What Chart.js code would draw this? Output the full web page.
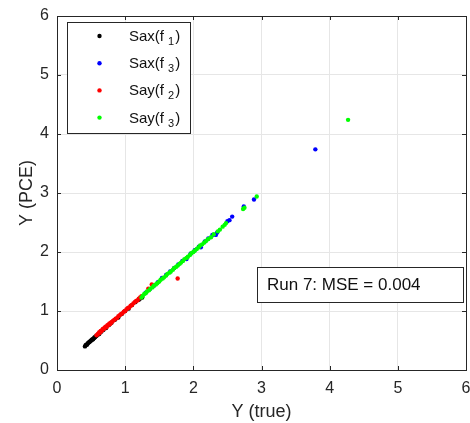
<!DOCTYPE html>
<html>
<head>
<meta charset="utf-8">
<script src="https://cdn.jsdelivr.net/npm/chart.js@4"></script>
<style>
  body { margin: 0; background: #fff; }
  canvas { display: block; }
</style>
</head>
<body>
<canvas id="pceChart" width="470" height="423"></canvas>
<script>
// Sax(f1) - black
const sax1X = [0.41,0.42,0.43,0.44,0.45,0.46,0.47,0.48,0.49,0.50,0.51,0.52,0.53,0.54,0.55,0.56,0.57,0.58,0.60,0.62,0.65,0.68,0.72,0.76,0.80,0.85,0.90,0.95,1.00,1.05,1.10,1.15,1.20,1.22,1.25];
const sax1Y = [0.40,0.42,0.43,0.43,0.45,0.46,0.47,0.48,0.49,0.50,0.51,0.52,0.52,0.54,0.55,0.56,0.57,0.58,0.60,0.61,0.65,0.68,0.71,0.76,0.80,0.85,0.89,0.95,1.00,1.04,1.10,1.15,1.19,1.21,1.23];
// Sax(f3) - blue
const sax3X = [1.30,1.36,1.42,1.48,1.54,1.60,1.66,1.72,1.78,1.84,1.90,1.96,2.02,2.08,2.11,2.17,2.22,2.28,2.33,2.35,2.50,2.53,2.57,2.74,2.89,3.79];
const sax3Y = [1.31,1.37,1.43,1.49,1.56,1.61,1.67,1.73,1.79,1.85,1.88,1.97,2.03,2.09,2.08,2.18,2.23,2.29,2.29,2.33,2.52,2.54,2.60,2.77,2.89,3.74];
// Say(f2) - red
const say2X = [0.58,0.60,0.61,0.62,0.63,0.64,0.65,0.66,0.67,0.68,0.69,0.70,0.71,0.72,0.73,0.74,0.75,0.76,0.77,0.78,0.79,0.80,0.82,0.84,0.86,0.88,0.90,0.92,0.94,0.96,0.98,1.00,1.02,1.04,1.06,1.08,1.10,1.12,1.14,1.16,1.18,1.20,1.22,1.24,1.34,1.39,1.77];
const say2Y = [0.59,0.61,0.62,0.64,0.63,0.66,0.66,0.67,0.69,0.70,0.70,0.72,0.72,0.74,0.73,0.76,0.76,0.77,0.79,0.78,0.80,0.81,0.83,0.85,0.87,0.88,0.91,0.93,0.95,0.96,0.99,1.00,1.03,1.05,1.06,1.09,1.10,1.13,1.15,1.17,1.18,1.21,1.23,1.25,1.38,1.45,1.55];
// Say(f3) - green
const say3X = [1.24,1.26,1.28,1.30,1.32,1.35,1.37,1.40,1.42,1.45,1.47,1.50,1.52,1.55,1.57,1.60,1.62,1.65,1.67,1.70,1.72,1.75,1.77,1.80,1.82,1.85,1.87,1.90,1.92,1.95,1.97,2.00,2.02,2.05,2.08,2.10,2.13,2.16,2.19,2.22,2.26,2.30,2.36,2.39,2.43,2.46,2.48,2.73,2.75,2.93,4.27];
const say3Y = [1.23,1.26,1.29,1.30,1.33,1.35,1.38,1.40,1.43,1.45,1.47,1.50,1.53,1.55,1.57,1.60,1.63,1.65,1.67,1.70,1.73,1.75,1.77,1.80,1.82,1.85,1.88,1.90,1.92,1.95,1.98,2.00,2.02,2.05,2.08,2.11,2.13,2.16,2.19,2.22,2.25,2.30,2.35,2.38,2.43,2.46,2.49,2.73,2.75,2.94,4.24];

const axisTicks = [0, 1, 2, 3, 4, 5, 6];
const legendNames = ['Sax(f_1)', 'Sax(f_3)', 'Say(f_2)', 'Say(f_3)'];
const legendColors = ['#000000', '#0000ff', '#ff0000', '#00ff00'];
const runText = 'Run 7: MSE = 0.004';

const AXIS_COLOR = '#262626';
const FONT = '"Liberation Sans", Arial, sans-serif';

function pts(xs, ys) {
  return xs.map((x, i) => ({ x: x, y: ys[i] }));
}

function ds(label, xs, ys, color) {
  return {
    label: label,
    data: pts(xs, ys),
    backgroundColor: color,
    borderWidth: 0,
    pointRadius: 2.2,
    pointHoverRadius: 2.2
  };
}

// chart.js paints dataset 0 last, so green ends up on top and black at the bottom
const datasets = [
  ds(legendNames[3], say3X, say3Y, legendColors[3]),
  ds(legendNames[2], say2X, say2Y, legendColors[2]),
  ds(legendNames[1], sax3X, sax3Y, legendColors[1]),
  ds(legendNames[0], sax1X, sax1Y, legendColors[0])
];

function drawSubLabel(ctx, text, x, y) {
  const parts = text.split('_');
  ctx.font = '15px ' + FONT;
  ctx.textBaseline = 'alphabetic';
  ctx.textAlign = 'left';
  ctx.fillText(parts[0], x, y);
  let cx = x + ctx.measureText(parts[0]).width + 4;
  ctx.font = '11px ' + FONT;
  const sub = parts[1].charAt(0);
  ctx.fillText(sub, cx, y + 4);
  cx += ctx.measureText(sub).width + 1;
  ctx.font = '15px ' + FONT;
  ctx.fillText(parts[1].slice(1), cx, y);
}

const boxPlugin = {
  id: 'boxPlugin',
  afterDatasetsDraw(chart) {
    const ctx = chart.ctx;
    const a = chart.chartArea;
    const xs = chart.scales.x, ys = chart.scales.y;
    ctx.save();
    ctx.strokeStyle = AXIS_COLOR;
    ctx.lineWidth = 1;
    // inward tick marks on all four sides
    ctx.beginPath();
    axisTicks.forEach(t => {
      const px = Math.round(xs.getPixelForValue(t)) + 0.5;
      ctx.moveTo(px, a.bottom); ctx.lineTo(px, a.bottom - 4);
      ctx.moveTo(px, a.top); ctx.lineTo(px, a.top + 4);
      const py = Math.round(ys.getPixelForValue(t)) + 0.5;
      ctx.moveTo(a.left, py); ctx.lineTo(a.left + 4, py);
      ctx.moveTo(a.right, py); ctx.lineTo(a.right - 4, py);
    });
    ctx.stroke();
    ctx.strokeRect(Math.round(a.left) + 0.5, Math.round(a.top) + 0.5,
      Math.round(a.right - a.left), Math.round(a.bottom - a.top));

    // legend
    ctx.fillStyle = '#fff';
    ctx.fillRect(67.5, 22.5, 123, 111);
    ctx.strokeRect(67.5, 22.5, 123, 111);
    legendNames.forEach((name, i) => {
      const cy = 36 + i * 27.2;
      ctx.fillStyle = legendColors[i];
      ctx.beginPath();
      ctx.arc(99.5, cy, 2.2, 0, Math.PI * 2);
      ctx.fill();
      ctx.fillStyle = '#111';
      drawSubLabel(ctx, name, 129, cy + 5);
    });

    // run / error box
    ctx.fillStyle = '#fff';
    ctx.fillRect(257.5, 267.5, 206, 35);
    ctx.strokeRect(257.5, 267.5, 206, 35);
    ctx.fillStyle = '#111';
    ctx.font = '17px ' + FONT;
    ctx.textBaseline = 'middle';
    ctx.textAlign = 'left';
    ctx.fillText(runText, 267, 285);
    ctx.restore();
  }
};

new Chart(document.getElementById('pceChart'), {
  type: 'scatter',
  data: { datasets: datasets },
  options: {
    responsive: false,
    animation: false,
    devicePixelRatio: 1,
    layout: { padding: { top: 16, right: 4, left: 0, bottom: 0 } },
    plugins: { legend: { display: false }, tooltip: { enabled: false } },
    scales: {
      x: {
        type: 'linear', min: 0, max: 6,
        afterFit: s => { s.height = 53; s.paddingLeft = 0; s.paddingRight = 0; },
        afterBuildTicks: s => { s.ticks = axisTicks.map(v => ({ value: v })); },
        ticks: { color: AXIS_COLOR, font: { family: FONT, size: 16 }, padding: 9 },
        grid: { color: '#e6e6e6', drawTicks: false },
        border: { display: false },
        title: { display: true, text: 'Y (true)', color: AXIS_COLOR,
          font: { family: FONT, size: 18 }, padding: { top: 0, bottom: 0 } }
      },
      y: {
        type: 'linear', min: 0, max: 6,
        afterFit: s => { s.width = 57; s.paddingTop = 0; s.paddingBottom = 0; },
        afterBuildTicks: s => { s.ticks = axisTicks.map(v => ({ value: v })); },
        ticks: { color: AXIS_COLOR, font: { family: FONT, size: 16 }, padding: 8 },
        grid: { color: '#e6e6e6', drawTicks: false },
        border: { display: false },
        title: { display: true, text: 'Y (PCE)', color: AXIS_COLOR,
          font: { family: FONT, size: 18 }, padding: { top: 16, bottom: 0 } }
      }
    }
  },
  plugins: [boxPlugin]
});
</script>
</body>
</html>
